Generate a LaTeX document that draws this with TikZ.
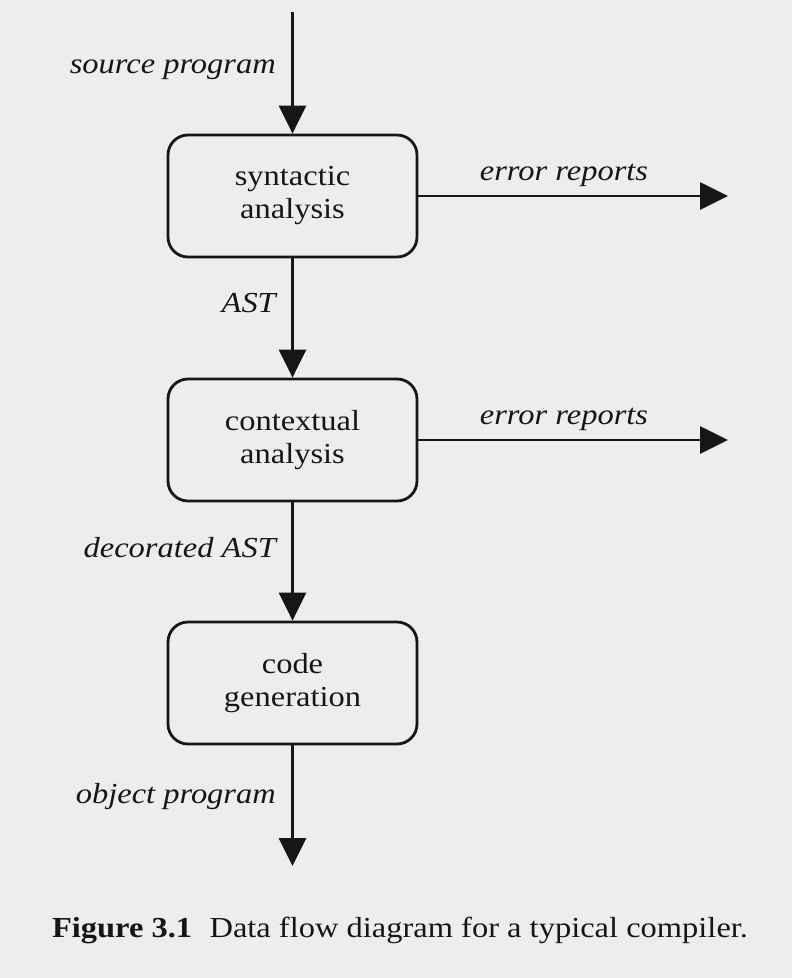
\documentclass[tikz,border=0pt]{standalone}
\usepackage{fontspec}
\setmainfont{Liberation Serif}[FakeStretch=1.12]
\usetikzlibrary{arrows.meta}

\definecolor{paper}{HTML}{EDEDED}
\definecolor{ink}{HTML}{161616}

\tikzset{
  stage/.style={draw=ink, line width=2.8pt, rounded corners=20pt, minimum width=249pt, minimum height=122pt, align=center, font=\fontsize{29}{33}\selectfont, text=ink},
  flow/.style={draw=ink, line width=2.8pt, -{Triangle[length=28pt,width=27pt]}},
  lbl/.style={font=\fontsize{29}{33}\selectfont\itshape, text=ink, inner sep=0pt}
}

\begin{document}
\begin{tikzpicture}[x=1pt,y=-1pt]
\fill[paper] (0,0) rectangle (792,978);

\draw node[stage] (syn) at (292.5,196) {syntactic\\analysis};
\draw node[stage] (ctx) at (292.5,440) {contextual\\analysis};
\draw node[stage] (gen) at (292.5,683) {code\\generation};

\coordinate (src) at (292.5,12);
\coordinate (obj) at (292.5,866);
\coordinate (err1) at (728,196);
\coordinate (err2) at (728,440);

\draw node[lbl, anchor=base east] (srclbl) at (276,73) {source program};
\draw node[lbl, anchor=base east] (astlbl) at (276,312) {AST};
\draw node[lbl, anchor=base east] (declbl) at (276,557) {decorated AST};
\draw node[lbl, anchor=base east] (objlbl) at (276,803) {object program};
\draw node[lbl, anchor=base] (errlbl1) at (564,180) {error reports};
\draw node[lbl, anchor=base] (errlbl2) at (564,424) {error reports};

\foreach \from/\to in {src/syn, syn/ctx, ctx/gen, gen/obj, syn/err1, ctx/err2}
	\draw[flow] (\from) -- (\to);

\draw node[text=ink, font=\fontsize{29}{33}\selectfont, anchor=base] (caption) at (400,937) {\textbf{Figure 3.1}\hskip 0.6em Data flow diagram for a typical compiler.};

\end{tikzpicture}
\end{document}
